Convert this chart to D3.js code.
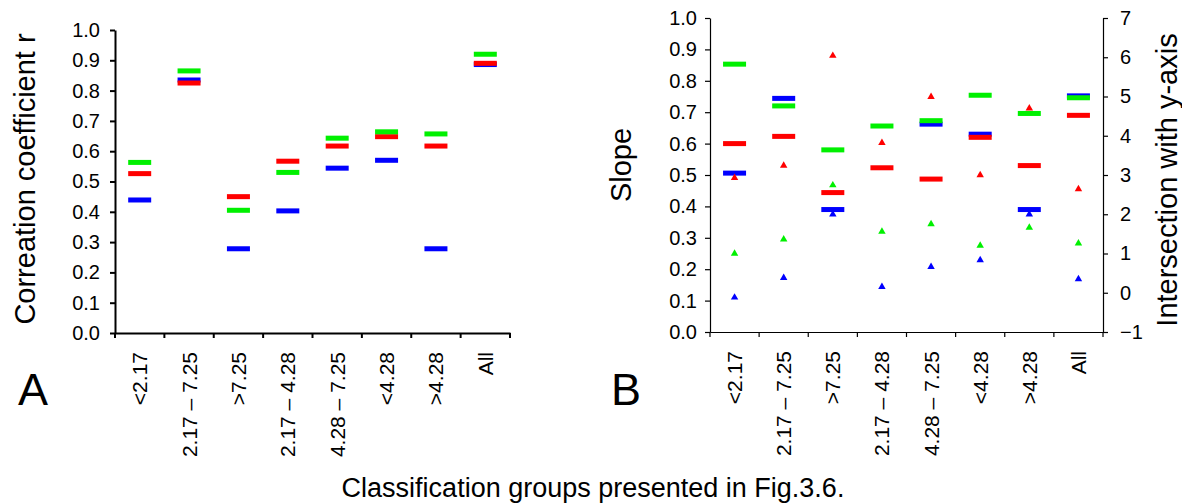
<!DOCTYPE html>
<html>
<head>
<meta charset="utf-8">
<script src="https://cdn.jsdelivr.net/npm/d3@7"></script>
<style>
  body { margin: 0; background: #fff; }
  svg { display: block; font-family: "Liberation Sans", Arial, sans-serif; }
</style>
</head>
<body>
<svg id="chart" width="1182" height="504"></svg>
<script>
// classification groups (x categories, same for both panels)
var groups = ["<2.17", "2.17 \u2013 7.25", ">7.25", "2.17 \u2013 4.28", "4.28 \u2013 7.25", "<4.28", ">4.28", "All"];

// panel A: correlation coefficient r
var rRed   = [0.526, 0.825, 0.450, 0.567, 0.617, 0.648, 0.617, 0.890];
var rGreen = [0.563, 0.865, 0.405, 0.530, 0.643, 0.664, 0.657, 0.920];
var rBlue  = [0.439, 0.835, 0.278, 0.403, 0.544, 0.570, 0.278, 0.886];

// panel B: slope (bars, left axis)
var slopeRed   = [0.600, 0.623, 0.444, 0.523, 0.487, 0.620, 0.530, 0.690];
var slopeGreen = [0.853, 0.720, 0.580, 0.656, 0.673, 0.754, 0.696, 0.746];
var slopeBlue  = [0.506, 0.744, 0.390, null, 0.662, 0.630, 0.390, 0.752];

// panel B: intersection with y-axis (triangles, right axis)
var icptRed   = [2.93, 3.24, 6.04, 3.82, 4.99, 3.00, 4.70, 2.64];
var icptGreen = [1.00, 1.36, 2.74, 1.56, 1.75, 1.20, 1.66, 1.26];
var icptBlue  = [-0.12, 0.38, 2.00, 0.15, 0.66, 0.83, 2.00, 0.35];

var leftTicks = [0, 0.1, 0.2, 0.3, 0.4, 0.5, 0.6, 0.7, 0.8, 0.9, 1.0];
var rightTicks = [-1, 0, 1, 2, 3, 4, 5, 6, 7];

var RED = "#ff0000", GREEN = "#00f000", BLUE = "#0000ff";

var svg = d3.select("#chart");

///////////////////////////////////////////////////////////////////////////////

var drawDashes = function (g, x, y, values, color) {
  g.selectAll(null)
    .data(values.map(function (v, i) { return {g: groups[i], v: v}; })
      .filter(function (d) { return d.v !== null; }))
    .enter().append("rect")
    .attr("x", function (d) { return x(d.g) + x.bandwidth() / 2 - 11.5; })
    .attr("y", function (d) { return y(d.v) - 2.5; })
    .attr("width", 23)
    .attr("height", 5)
    .attr("fill", color);
};

var drawTriangles = function (g, x, y, values, color) {
  g.selectAll(null)
    .data(values.map(function (v, i) { return {g: groups[i], v: v}; }))
    .enter().append("path")
    .attr("d", d3.symbol().type(d3.symbolTriangle).size(24))
    .attr("transform", function (d) {
      return "translate(" + (x(d.g) + x.bandwidth() / 2) + "," + y(d.v) + ")";
    })
    .attr("fill", color);
};

var styleAxis = function (sel, width) {
  sel.select(".domain").attr("stroke", "#000").attr("stroke-width", width);
  sel.selectAll(".tick line").attr("stroke", "#000").attr("stroke-width", width);
  sel.selectAll(".tick text").attr("fill", "#000").attr("font-size", 20);
};

var categoryAxis = function (g, x, yPos, width) {
  var ax = g.append("g")
    .attr("transform", "translate(0," + yPos + ")")
    .call(d3.axisBottom(x).tickSize(5).tickSizeOuter(0).tickFormat(""));
  // ticks sit on the band edges, not on the centres
  ax.selectAll(".tick").remove();
  var edges = groups.map(function (c) { return x(c); }).concat([x.range()[1]]);
  ax.selectAll(null).data(edges).enter().append("line")
    .attr("x1", function (d) { return d; }).attr("x2", function (d) { return d; })
    .attr("y1", 0).attr("y2", 5)
    .attr("stroke", "#000").attr("stroke-width", width);
  ax.select(".domain").attr("stroke", "#000").attr("stroke-width", width);
  g.selectAll(null).data(groups).enter().append("text")
    .attr("transform", function (d) {
      return "translate(" + (x(d) + x.bandwidth() / 2 + 7.5) + "," + (yPos + 19) + ") rotate(-90)";
    })
    .attr("text-anchor", "end")
    .attr("font-size", 21)
    .text(function (d) { return d; });
};

///////////////////////////////////////////////////////////////////////////////
// Panel A

var xA = d3.scaleBand().domain(groups).range([115, 510]);
var yA = d3.scaleLinear().domain([0, 1]).range([333, 30]);
var gA = svg.append("g");

drawDashes(gA, xA, yA, rBlue, BLUE);
drawDashes(gA, xA, yA, rRed, RED);
drawDashes(gA, xA, yA, rGreen, GREEN);

gA.append("g")
  .attr("transform", "translate(115,0)")
  .call(d3.axisLeft(yA).tickValues(leftTicks).tickSize(5).tickSizeOuter(0).tickPadding(10)
    .tickFormat(d3.format(".1f")))
  .call(styleAxis, 2);
categoryAxis(gA, xA, 333, 2);

gA.append("text")
  .attr("transform", "translate(35,179) rotate(-90)")
  .attr("text-anchor", "middle")
  .attr("font-size", 29)
  .text("Correation coefficient r");

gA.append("text")
  .attr("x", 18).attr("y", 405)
  .attr("font-size", 45)
  .text("A");

///////////////////////////////////////////////////////////////////////////////
// Panel B

var xB = d3.scaleBand().domain(groups).range([710, 1103]);
var yB = d3.scaleLinear().domain([0, 1]).range([332, 18]);
var yI = d3.scaleLinear().domain([-1, 7]).range([332, 18]);
var gB = svg.append("g");

drawDashes(gB, xB, yB, slopeBlue, BLUE);
drawDashes(gB, xB, yB, slopeRed, RED);
drawDashes(gB, xB, yB, slopeGreen, GREEN);

drawTriangles(gB, xB, yI, icptRed, RED);
drawTriangles(gB, xB, yI, icptGreen, GREEN);
drawTriangles(gB, xB, yI, icptBlue, BLUE);

gB.append("g")
  .attr("transform", "translate(710,0)")
  .call(d3.axisLeft(yB).tickValues(leftTicks).tickSize(5).tickSizeOuter(0).tickPadding(8)
    .tickFormat(d3.format(".1f")))
  .call(styleAxis, 1.2);
gB.append("g")
  .attr("transform", "translate(1103,0)")
  .call(d3.axisRight(yI).tickValues(rightTicks).tickSize(5).tickSizeOuter(0).tickPadding(12))
  .call(styleAxis, 1.2);
categoryAxis(gB, xB, 332, 1.2);

gB.append("text")
  .attr("transform", "translate(631,165) rotate(-90)")
  .attr("text-anchor", "middle")
  .attr("font-size", 29)
  .text("Slope");

gB.append("text")
  .attr("transform", "translate(1177,180) rotate(-90)")
  .attr("text-anchor", "middle")
  .attr("font-size", 29)
  .text("Intersection with y-axis");

gB.append("text")
  .attr("x", 611).attr("y", 405)
  .attr("font-size", 45)
  .text("B");

svg.append("text")
  .attr("x", 593).attr("y", 497)
  .attr("text-anchor", "middle")
  .attr("font-size", 27)
  .text("Classification groups presented in Fig.3.6.");
</script>
</body>
</html>
